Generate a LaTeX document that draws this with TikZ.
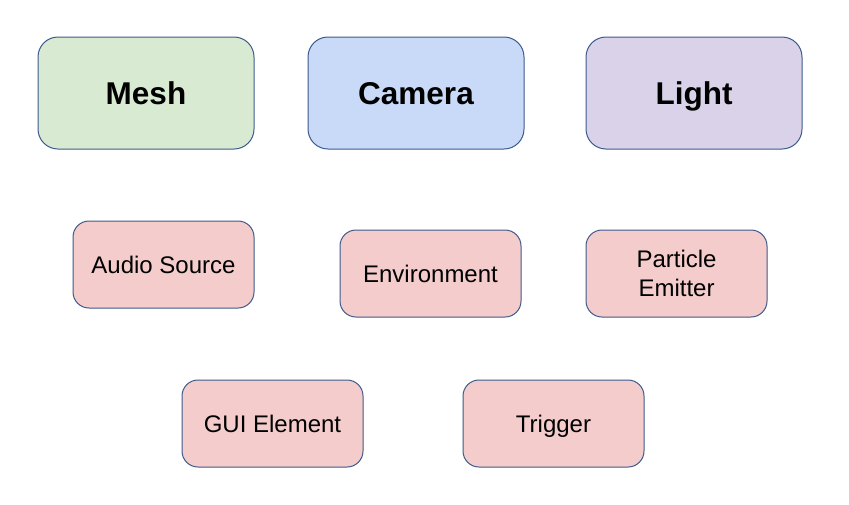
\documentclass[tikz,border=0pt]{standalone}
\usepackage{fontspec}
\setmainfont{Liberation Sans}

\definecolor{meshgreen}{HTML}{D9EAD3}
\definecolor{camblue}{HTML}{C9DAF8}
\definecolor{lightpurple}{HTML}{D9D2E9}
\definecolor{comppink}{HTML}{F4CCCC}
\definecolor{edgeblue}{HTML}{3C5A8C}

\begin{document}
\begin{tikzpicture}[x=0.5pt,y=-0.5pt, core/.style={draw=edgeblue,line width=0.5pt,rounded corners=10pt,minimum width=108pt,minimum height=56pt,inner sep=0pt,text height=11.28pt,text depth=0pt,font=\fontsize{15.75}{18}\selectfont\bfseries}, compbox/.style={draw=edgeblue,fill=comppink,line width=0.5pt,rounded corners=8pt,minimum width=90.5pt,minimum height=43.5pt,inner sep=0pt,align=center,font=\fontsize{12}{14.5}\selectfont}, comp/.style={compbox,text height=8.6pt,text depth=0pt}]
\useasboundingbox (0,0) rectangle (849,504);

\node[core,fill=meshgreen] (mesh) at (146,93) {Mesh};
\node[core,fill=camblue] (camera) at (416,93) {Camera};
\node[core,fill=lightpurple] (light) at (694,93) {Light};

\node[comp] (audio) at (163.5,264.5) {Audio Source};
\node[comp] (env) at (430.5,273.5) {Environment};
\node[compbox] (particle) at (676.5,273.5) {Particle\\Emitter};
\node[comp] (gui) at (272.5,423.5) {GUI Element};
\node[comp] (trigger) at (553.5,423.5) {Trigger};

\end{tikzpicture}
\end{document}
